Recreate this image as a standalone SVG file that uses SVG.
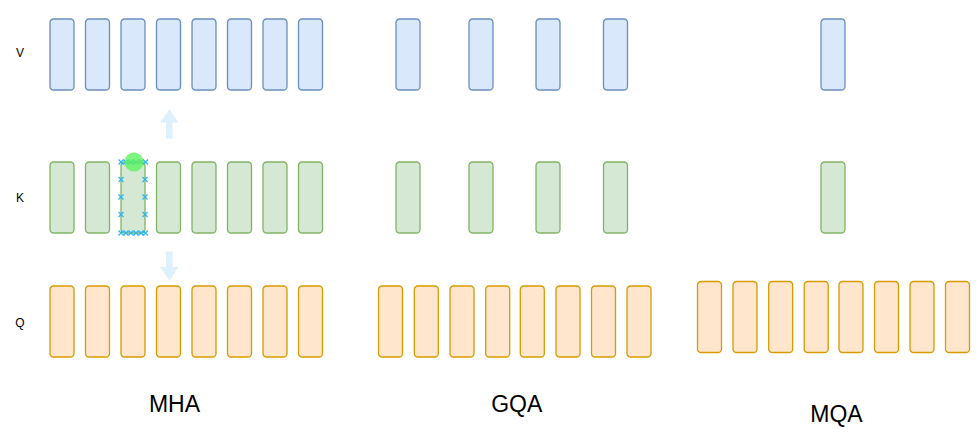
<svg xmlns="http://www.w3.org/2000/svg" width="979" height="437" viewBox="0 0 979 437">
<style>
.v{fill:#dae8fc;stroke:#6c8ebf;stroke-width:1.3}
.k{fill:#d5e8d4;stroke:#82b366;stroke-width:1.3}
.q{fill:#ffe6cc;stroke:#d79b00;stroke-width:1.3}
.lbl{font-family:"Liberation Sans",Arial,sans-serif;font-size:12px;fill:#000}
.ttl{font-family:"Liberation Sans",Arial,sans-serif;font-size:23px;fill:#000;text-anchor:middle}
.hx{stroke:#29b6f2;stroke-width:1.2;fill:none}
.arr{fill:#dff0fd}
</style>
<defs>
<rect id="bar" width="24" height="71" rx="3.6"/>
<path id="xm" d="M-2.5,-2.5L2.5,2.5M-2.5,2.5L2.5,-2.5"/>
</defs>
<rect width="979" height="437" fill="#fff"/>
<g id="labels">
<text class="lbl" x="20" y="57" text-anchor="middle">V</text>
<text class="lbl" x="20" y="202" text-anchor="middle">K</text>
<text class="lbl" x="20" y="327" text-anchor="middle">Q</text>
</g>
<g id="mha">
<g id="mha-v">
<use href="#bar" class="v" x="50" y="19"/>
<use href="#bar" class="v" x="85.5" y="19"/>
<use href="#bar" class="v" x="121" y="19"/>
<use href="#bar" class="v" x="156.5" y="19"/>
<use href="#bar" class="v" x="192" y="19"/>
<use href="#bar" class="v" x="227.5" y="19"/>
<use href="#bar" class="v" x="263" y="19"/>
<use href="#bar" class="v" x="298.5" y="19"/>
</g>
<g id="mha-k">
<use href="#bar" class="k" x="50" y="162"/>
<use href="#bar" class="k" x="85.5" y="162"/>
<use href="#bar" class="k" x="121" y="162"/>
<use href="#bar" class="k" x="156.5" y="162"/>
<use href="#bar" class="k" x="192" y="162"/>
<use href="#bar" class="k" x="227.5" y="162"/>
<use href="#bar" class="k" x="263" y="162"/>
<use href="#bar" class="k" x="298.5" y="162"/>
</g>
<g id="mha-q">
<use href="#bar" class="q" x="50" y="286"/>
<use href="#bar" class="q" x="85.5" y="286"/>
<use href="#bar" class="q" x="121" y="286"/>
<use href="#bar" class="q" x="156.5" y="286"/>
<use href="#bar" class="q" x="192" y="286"/>
<use href="#bar" class="q" x="227.5" y="286"/>
<use href="#bar" class="q" x="263" y="286"/>
<use href="#bar" class="q" x="298.5" y="286"/>
</g>
<text class="ttl" x="174.5" y="412">MHA</text>
</g>
<g id="gqa">
<g id="gqa-v">
<use href="#bar" class="v" x="396" y="19"/>
<use href="#bar" class="v" x="469" y="19"/>
<use href="#bar" class="v" x="536" y="19"/>
<use href="#bar" class="v" x="603.5" y="19"/>
</g>
<g id="gqa-k">
<use href="#bar" class="k" x="396" y="162"/>
<use href="#bar" class="k" x="469" y="162"/>
<use href="#bar" class="k" x="536" y="162"/>
<use href="#bar" class="k" x="603.5" y="162"/>
</g>
<g id="gqa-q">
<use href="#bar" class="q" x="378.5" y="286"/>
<use href="#bar" class="q" x="414.3" y="286"/>
<use href="#bar" class="q" x="450" y="286"/>
<use href="#bar" class="q" x="485.7" y="286"/>
<use href="#bar" class="q" x="520.3" y="286"/>
<use href="#bar" class="q" x="556" y="286"/>
<use href="#bar" class="q" x="591.5" y="286"/>
<use href="#bar" class="q" x="627" y="286"/>
</g>
<text class="ttl" x="516.7" y="412">GQA</text>
</g>
<g id="mqa">
<use href="#bar" class="v" x="821" y="19"/>
<use href="#bar" class="k" x="821" y="162"/>
<g id="mqa-q">
<use href="#bar" class="q" x="697.5" y="281.5"/>
<use href="#bar" class="q" x="733" y="281.5"/>
<use href="#bar" class="q" x="768.7" y="281.5"/>
<use href="#bar" class="q" x="804.2" y="281.5"/>
<use href="#bar" class="q" x="839" y="281.5"/>
<use href="#bar" class="q" x="874.5" y="281.5"/>
<use href="#bar" class="q" x="910" y="281.5"/>
<use href="#bar" class="q" x="945.5" y="281.5"/>
</g>
<text class="ttl" x="836.5" y="421.5">MQA</text>
</g>
<g id="selection">
<path class="arr" d="M169.5,109L178.5,122.5H172.5V138.5H166V122.5H160Z"/>
<path class="arr" d="M169.5,280.5L178.5,267H172.5V251.5H166V267H160Z"/>
<g class="hx">
<use href="#xm" x="121" y="162"/><use href="#xm" x="126" y="162"/><use href="#xm" x="131" y="162"/><use href="#xm" x="136" y="162"/><use href="#xm" x="141" y="162"/><use href="#xm" x="145.5" y="162"/>
<use href="#xm" x="121" y="233"/><use href="#xm" x="126" y="233"/><use href="#xm" x="131" y="233"/><use href="#xm" x="136" y="233"/><use href="#xm" x="141" y="233"/><use href="#xm" x="145.5" y="233"/>
<use href="#xm" x="121" y="179.5"/><use href="#xm" x="121" y="197"/><use href="#xm" x="121" y="214.5"/>
<use href="#xm" x="145" y="179.5"/><use href="#xm" x="145" y="197"/><use href="#xm" x="145" y="214.5"/>
</g>
<circle cx="134" cy="162" r="9.5" fill="#5ef25e" fill-opacity="0.8"/>
</g>
</svg>
